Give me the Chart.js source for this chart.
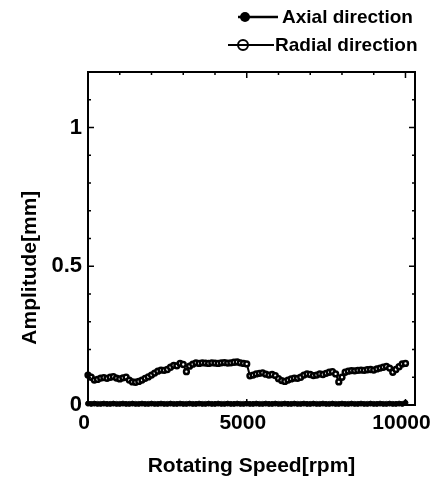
<!DOCTYPE html>
<html>
<head>
<meta charset="utf-8">
<script src="https://cdn.jsdelivr.net/npm/chart.js@4.4.0/dist/chart.umd.min.js"></script>
<style>
  body { margin: 0; background: #fff; }
  #wrap { position: relative; width: 434px; height: 481px; }
  .key { position: absolute; font: bold 19px "Liberation Sans", Arial, sans-serif; color: #000; white-space: nowrap; line-height: 20px; }
  .mark { position: absolute; }
</style>
</head>
<body>
<div id="wrap">
  <canvas id="myChart" width="434" height="481"></canvas>
  <svg class="mark" style="left:234px; top:9px;" width="46" height="16">
    <line x1="4" y1="8" x2="44" y2="8" stroke="#000" stroke-width="2.5"/>
    <circle cx="11" cy="8" r="5" fill="#000"/>
  </svg>
  <div class="key" style="left:282px; top:7px;">Axial direction</div>
  <svg class="mark" style="left:228px; top:37px;" width="48" height="16">
    <line x1="0" y1="8" x2="46" y2="8" stroke="#000" stroke-width="2"/>
    <circle cx="15" cy="8" r="5" fill="none" stroke="#000" stroke-width="2"/>
  </svg>
  <div class="key" style="left:275px; top:35px;">Radial direction</div>
</div>
<script>
// Data

const speeds = [
  0, 100, 200, 300, 400, 500, 600, 700, 800, 900,
  1000, 1100, 1200, 1300, 1400, 1500, 1600, 1700, 1800, 1900,
  2000, 2100, 2200, 2300, 2400, 2500, 2600, 2700, 2800, 2900,
  3000, 3100, 3200, 3300, 3400, 3500, 3600, 3700, 3800, 3900,
  4000, 4100, 4200, 4300, 4400, 4500, 4600, 4700, 4800, 4900,
  5000, 5100, 5200, 5300, 5400, 5500, 5600, 5700, 5800, 5900,
  6000, 6100, 6200, 6300, 6400, 6500, 6600, 6700, 6800, 6900,
  7000, 7100, 7200, 7300, 7400, 7500, 7600, 7700, 7800, 7900,
  8000, 8100, 8200, 8300, 8400, 8500, 8600, 8700, 8800, 8900,
  9000, 9100, 9200, 9300, 9400, 9500, 9600, 9700, 9800, 9900,
  10000,
];

const axial = [
  0.005, 0.004, 0.005, 0.004, 0.004, 0.005, 0.004, 0.004, 0.005, 0.004,
  0.004, 0.005, 0.004, 0.004, 0.005, 0.004, 0.004, 0.005, 0.004, 0.004,
  0.005, 0.004, 0.004, 0.005, 0.004, 0.004, 0.005, 0.004, 0.004, 0.005,
  0.004, 0.004, 0.005, 0.004, 0.004, 0.005, 0.004, 0.004, 0.005, 0.004,
  0.004, 0.005, 0.004, 0.004, 0.005, 0.004, 0.004, 0.005, 0.004, 0.004,
  0.005, 0.004, 0.004, 0.005, 0.004, 0.004, 0.005, 0.004, 0.004, 0.005,
  0.004, 0.004, 0.005, 0.004, 0.004, 0.005, 0.004, 0.004, 0.005, 0.004,
  0.004, 0.005, 0.004, 0.004, 0.005, 0.004, 0.004, 0.005, 0.004, 0.004,
  0.005, 0.004, 0.004, 0.005, 0.004, 0.004, 0.005, 0.004, 0.004, 0.005,
  0.004, 0.004, 0.005, 0.004, 0.004, 0.005, 0.004, 0.004, 0.005, 0.004,
  0.008,
];

const radial = [
  0.108, 0.100, 0.090, 0.092, 0.097, 0.099, 0.096, 0.100, 0.102, 0.097,
  0.094, 0.098, 0.100, 0.090, 0.083, 0.082, 0.085, 0.090, 0.096, 0.101,
  0.108, 0.115, 0.122, 0.126, 0.125, 0.128, 0.136, 0.143, 0.141, 0.150,
  0.146, 0.120, 0.140, 0.147, 0.152, 0.150, 0.152, 0.151, 0.150, 0.152,
  0.151, 0.150, 0.152, 0.153, 0.151, 0.152, 0.154, 0.155, 0.152, 0.150,
  0.148, 0.105, 0.108, 0.112, 0.114, 0.116, 0.111, 0.108, 0.110, 0.106,
  0.095, 0.088, 0.085, 0.090, 0.094, 0.097, 0.096, 0.100, 0.108, 0.112,
  0.110, 0.106, 0.108, 0.112, 0.110, 0.114, 0.118, 0.120, 0.112, 0.083,
  0.100, 0.118, 0.122, 0.124, 0.123, 0.125, 0.126, 0.125, 0.127, 0.128,
  0.126, 0.130, 0.133, 0.136, 0.139, 0.133, 0.118, 0.128, 0.138, 0.148,
  0.150,
];

// tick positions (every tick gets a mark, only the majors get a label)
const xTicks = [0, 1000, 2000, 3000, 4000, 5000, 6000, 7000, 8000, 9000, 10000];
const xMajor = [0, 5000, 10000];
const yTicks = [0, 0.1, 0.2, 0.3, 0.4, 0.5, 0.6, 0.7, 0.8, 0.9, 1, 1.1, 1.2];
const yMajor = [0, 0.5, 1];

// Chart

const font = "'Liberation Sans', Arial, sans-serif";

function isMajorY(v) {
  return yMajor.some((m) => Math.abs(m - v) < 1e-6);
}

const frame = {
  id: "frame",
  afterDatasetsDraw(chart) {
    const { ctx, chartArea: a, scales } = chart;
    ctx.save();
    ctx.strokeStyle = "#000";
    ctx.lineWidth = 2;
    ctx.strokeRect(a.left, a.top, a.right - a.left, a.bottom - a.top);
    ctx.lineWidth = 1.5;
    ctx.beginPath();
    scales.x.ticks.forEach((t) => {
      const px = scales.x.getPixelForValue(t.value);
      const len = xMajor.includes(t.value) ? 6 : 3;
      ctx.moveTo(px, a.top);
      ctx.lineTo(px, a.top + len);
      ctx.moveTo(px, a.bottom);
      ctx.lineTo(px, a.bottom - len);
    });
    scales.y.ticks.forEach((t) => {
      const py = scales.y.getPixelForValue(t.value);
      const len = isMajorY(t.value) ? 6 : 3;
      ctx.moveTo(a.left, py);
      ctx.lineTo(a.left + len, py);
      ctx.moveTo(a.right, py);
      ctx.lineTo(a.right - len, py);
    });
    ctx.stroke();
    ctx.restore();
  },
};

new Chart(document.getElementById("myChart"), {
  type: "line",
  data: {
    datasets: [
      {
        label: "Axial direction",
        data: speeds.map((s, i) => ({ x: s, y: axial[i] })),
        borderColor: "#000",
        backgroundColor: "#000",
        borderWidth: 2,
        pointRadius: 2.5,
        pointBorderWidth: 1,
        pointBackgroundColor: "#000",
        pointBorderColor: "#000",
      },
      {
        label: "Radial direction",
        data: speeds.map((s, i) => ({ x: s, y: radial[i] })),
        borderColor: "#000",
        backgroundColor: "#fff",
        borderWidth: 2,
        pointRadius: 2.4,
        pointBorderWidth: 2.5,
        pointBackgroundColor: "#fff",
        pointBorderColor: "#000",
      },
    ],
  },
  options: {
    responsive: false,
    animation: false,
    clip: false,
    layout: { padding: { top: 72, right: 19, left: 0, bottom: 0 } },
    plugins: { legend: { display: false }, tooltip: { enabled: false } },
    scales: {
      x: {
        type: "linear",
        min: 0,
        max: 10300,
        afterBuildTicks(scale) {
          scale.ticks = xTicks.map((v) => ({ value: v }));
        },
        afterFit(scale) {
          scale.height = 76;
          scale.paddingLeft = 0;
          scale.paddingRight = 0;
        },
        grid: { display: false, drawTicks: false },
        border: { display: false },
        ticks: {
          autoSkip: false,
          maxRotation: 0,
          padding: 6,
          labelOffset: -4,
          color: "#000",
          font: { family: font, size: 21, weight: "bold" },
          callback: (v) => (xMajor.includes(v) ? String(v) : ""),
        },
        title: {
          display: true,
          text: "Rotating Speed[rpm]",
          color: "#000",
          font: { family: font, size: 21, weight: "bold" },
          padding: { top: 0, bottom: 2 },
        },
      },
      y: {
        min: 0,
        max: 1.2,
        afterBuildTicks(scale) {
          scale.ticks = yTicks.map((v) => ({ value: v }));
        },
        afterFit(scale) {
          scale.width = 88;
          scale.paddingTop = 0;
          scale.paddingBottom = 0;
        },
        grid: { display: false, drawTicks: false },
        border: { display: false },
        ticks: {
          autoSkip: false,
          padding: 6,
          color: "#000",
          font: { family: font, size: 22, weight: "bold" },
          callback: (v) => (isMajorY(v) ? String(v) : ""),
        },
        title: {
          display: true,
          text: "Amplitude[mm]          ",
          color: "#000",
          font: { family: font, size: 21, weight: "bold" },
          padding: { top: 18, bottom: 0 },
        },
      },
    },
  },
  plugins: [frame],
});
</script>
</body>
</html>
